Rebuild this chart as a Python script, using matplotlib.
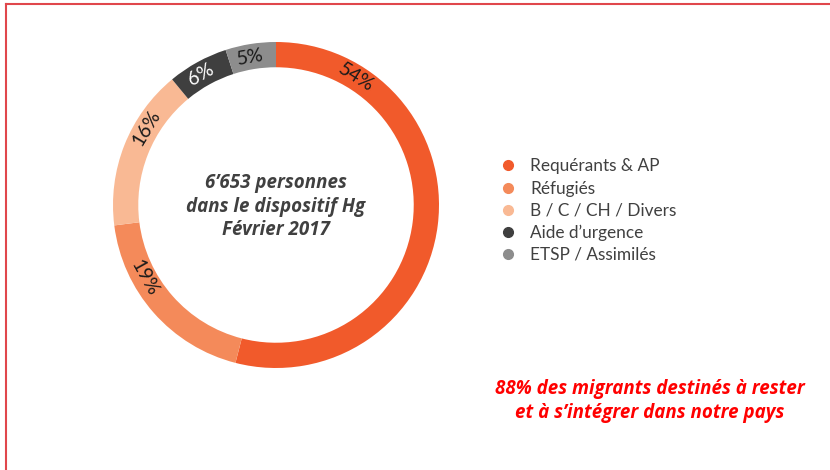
import numpy as np
import matplotlib.pyplot as plt
from matplotlib.lines import Line2D

# donut data
categories = ["Requérants & AP", "Réfugiés", "B / C / CH / Divers", "Aide d’urgence", "ETSP / Assimilés"]
shares = [54, 19, 16, 6, 5]
colors = ["#F15A2B", "#F48A5A", "#F9B994", "#3F3F3F", "#8D8D8D"]
label_colors = ["#1a1a1a", "#1a1a1a", "#1a1a1a", "white", "#1a1a1a"]
# where along each slice the % label sits (0 = start, 1 = end)
label_pos = [0.165, 0.68, 0.66, 0.45, 0.45]

W, H = 830, 470
fig = plt.figure(figsize=(W / 100, H / 100), dpi=100)

# pie axes: centre (276, 205) px, radius 163 px
cx, cy, r = 276, 205, 163
half = 175
ax = fig.add_axes([(cx - half) / W, (H - cy - half) / H, 2 * half / W, 2 * half / H])
wedges, _ = ax.pie(shares, colors=colors, startangle=90, counterclock=False,
                   radius=1, wedgeprops=dict(width=0.155, linewidth=0))
lim = half / r
ax.set_xlim(-lim, lim)
ax.set_ylim(-lim, lim)
ax.set_aspect("equal")
ax.axis("off")

# percentage labels along the ring
start = 0
total = sum(shares)
for val, frac, col in zip(shares, label_pos, label_colors):
    a = (start + frac * val) / total * 360  # clockwise from top
    rad = np.deg2rad(90 - a)
    rr = 1 - 0.155 / 2
    rot = -a if (a < 90 or a > 270) else 180 - a
    ax.text(rr * np.cos(rad), rr * np.sin(rad), f"{val}%", rotation=rot,
            rotation_mode="anchor", ha="center", va="center",
            fontsize=14, color=col, family="Lato")
    start += val

# centre text
ax.text(0, -0.01, "6’653 personnes\ndans le dispositif Hg\nFévrier 2017", ha="center", va="center",
        fontsize=13.5, fontweight="bold", fontstyle="italic", color="#404040",
        family="Open Sans", linespacing=1.25)

# legend
handles = [Line2D([], [], marker="o", linestyle="", markersize=7, color=c) for c in colors]
fig.legend(handles, categories, loc="upper left", bbox_to_anchor=(484 / W, 1 - 143 / H),
           frameon=False, labelcolor="#404040", handletextpad=0.8,
           labelspacing=0.35, handlelength=1.0, prop={"family": "Lato", "size": 12.4})

# red note
fig.text(650 / W, 1 - 401 / H, "88% des migrants destinés à rester\net à s’intégrer dans notre pays",
         ha="center", va="center", color="#FF0000", fontsize=13.5, fontweight="bold",
         fontstyle="italic", family="Open Sans", linespacing=1.3)

# frame lines (top and left)
fig.add_artist(Line2D([6 / W, 1], [1 - 4 / H, 1 - 4 / H], color="#E0474C", linewidth=1.5))
fig.add_artist(Line2D([6 / W, 6 / W], [0, 1 - 4 / H], color="#E0474C", linewidth=1.5))

fig.savefig("out.png", dpi=100)
